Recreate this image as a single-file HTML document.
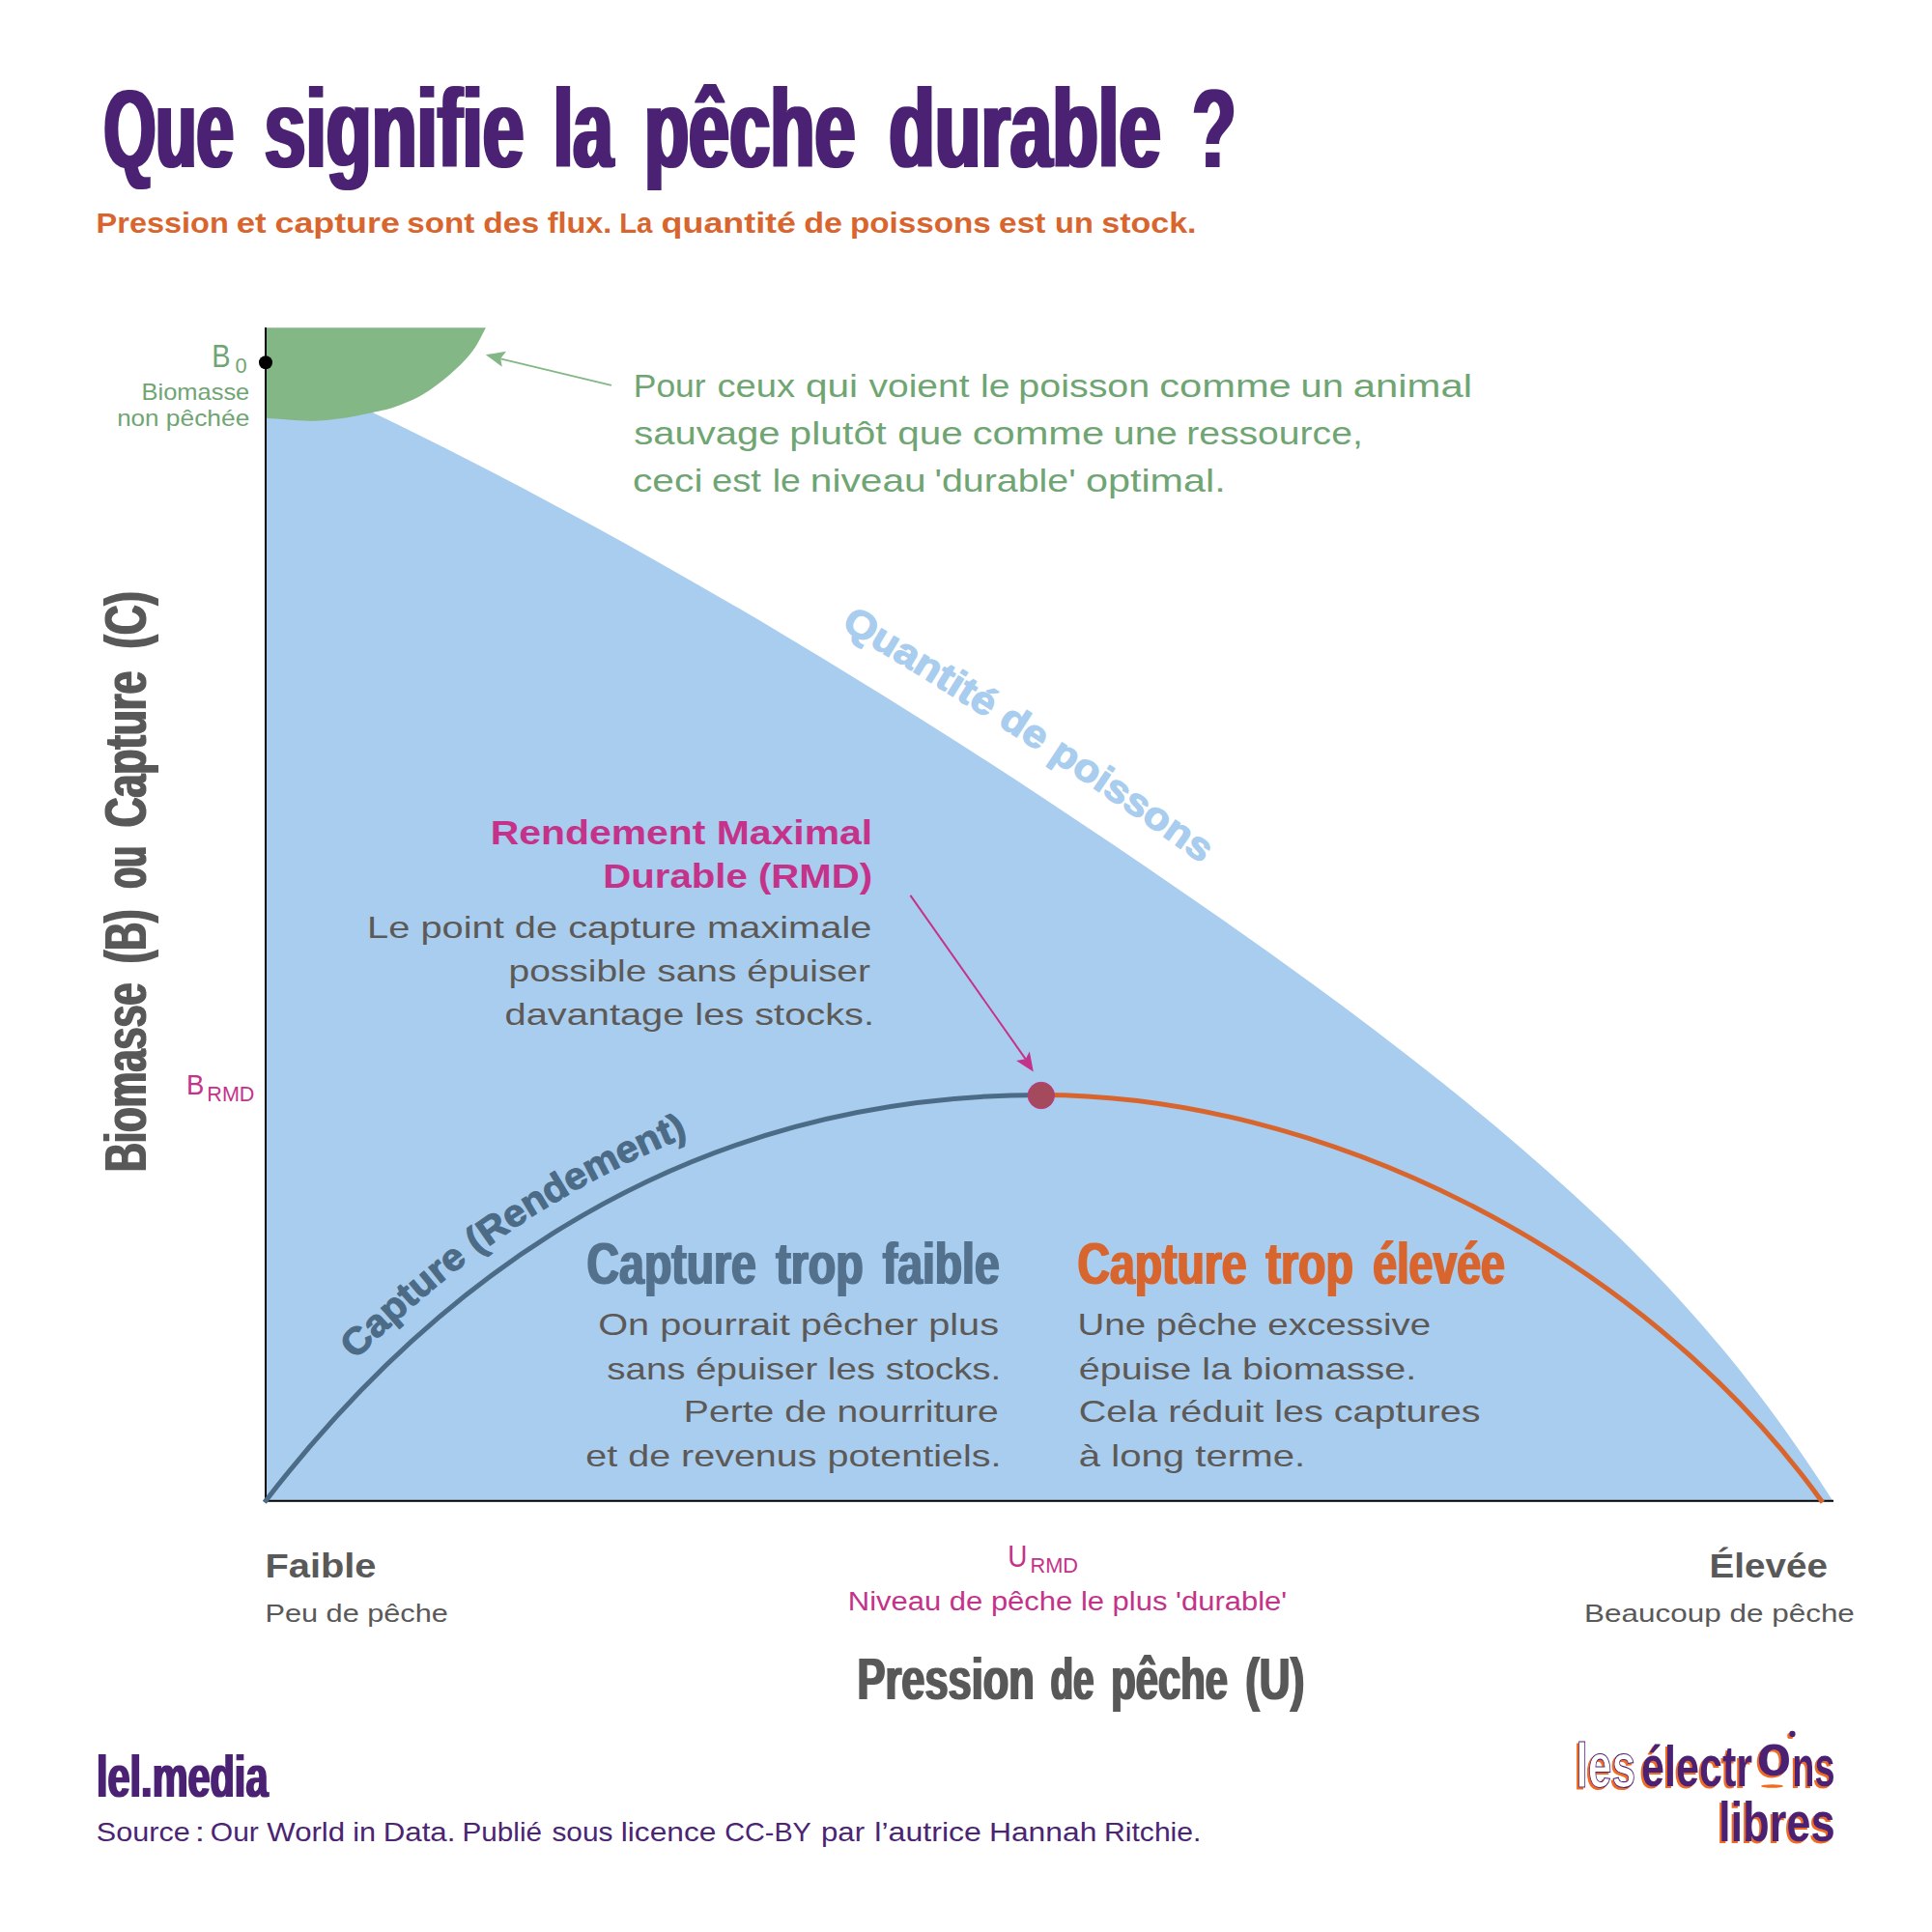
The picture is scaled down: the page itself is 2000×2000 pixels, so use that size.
<!DOCTYPE html>
<html lang="fr"><head><meta charset="utf-8"><title>Que signifie la pêche durable ?</title>
<style>html,body{margin:0;padding:0;background:#fff}body{width:2000px;height:2000px;overflow:hidden}svg{display:block}text{font-family:"Liberation Sans", Arial, sans-serif}</style>
</head><body>
<svg width="2000" height="2000" viewBox="0 0 2000 2000">
<rect width="2000" height="2000" fill="#fff"/>
<defs>
<filter id="fat1" filterUnits="userSpaceOnUse" x="0" y="0" width="2000" height="2000"><feMorphology operator="dilate" radius="1 0"/></filter>
<filter id="fatv" filterUnits="userSpaceOnUse" x="0" y="0" width="2000" height="2000"><feMorphology operator="dilate" radius="0 1"/></filter>
<filter id="fat2" filterUnits="userSpaceOnUse" x="0" y="0" width="2000" height="2000"><feMorphology operator="dilate" radius="2 0"/></filter>
<filter id="sh" filterUnits="userSpaceOnUse" x="1600" y="1770" width="340" height="160"><feFlood flood-color="#f26a1b"/><feComposite in2="SourceAlpha" operator="in"/><feOffset dx="-2.2" dy="1.6"/><feMerge><feMergeNode/><feMergeNode in="SourceGraphic"/></feMerge></filter>
</defs>
<path d="M275.0,375.2 C320.1,395.5 365.1,416.7 410.2,438.8 C455.3,460.9 500.3,483.8 545.4,507.6 C590.4,531.4 635.5,556.0 680.6,581.4 C725.6,606.8 770.7,632.9 815.8,659.9 C860.8,686.8 905.9,714.5 951.0,742.9 C996.0,771.3 1041.1,800.4 1086.2,830.2 C1131.2,859.9 1176.3,890.4 1221.3,921.4 C1266.4,952.5 1311.5,984.1 1356.5,1016.9 C1401.6,1049.7 1446.7,1083.8 1491.7,1119.8 C1536.8,1155.8 1581.9,1193.7 1626.9,1234.7 C1672.0,1275.6 1717.0,1319.9 1762.1,1371.7 C1807.2,1423.5 1852.2,1482.8 1897.3,1553.7 L275,1553.7 Z" fill="#a9cdee"/>
<path d="M275,339.2 L502.9,339.2 C499.8,345.1 496.8,351.7 493.5,356.9 C490.2,362.1 487.3,365.9 483.4,370.4 C479.5,374.9 474.9,379.3 470.0,383.8 C465.1,388.3 459.9,392.8 453.8,397.3 C447.7,401.8 441.2,406.8 433.6,410.8 C426.0,414.8 416.0,418.8 408.0,421.5 C400.0,424.2 394.8,425.0 385.8,426.9 C376.8,428.8 365.1,431.5 354.2,433.0 C343.3,434.5 333.8,435.7 320.6,435.7 C307.4,435.7 290.2,433.7 275.0,432.8 Z" fill="#83b785"/>
<path d="M275,339 V1553.7 H1898" fill="none" stroke="#000" stroke-width="2"/>
<path d="M273.8,1555.3 L275,1553.7 C411.6,1376.4 662.1,1133.5 1078,1133.5" fill="none" stroke="#4b6b86" stroke-width="5"/>
<path d="M1078,1133.5 C1362.7,1133.5 1695,1290.4 1885.6,1553.7 L1886.8,1555.3" fill="none" stroke="#d9652e" stroke-width="5"/>
<circle cx="275" cy="375.2" r="7" fill="#000"/>
<circle cx="1077.85" cy="1134" r="13.7" fill="#a54a5c" stroke="#c43389" stroke-width="1"/>
<path d="M632.9,398.8 L518.2,371.3" fill="none" stroke="#83b785" stroke-width="1.8"/>
<path d="M502.8,367.3 L524,363.8 L518.2,371.3 L519.8,379.8 Z" fill="#83b785"/>
<path d="M942.4,926.8 L1061.7,1096.3" fill="none" stroke="#c43389" stroke-width="2"/>
<path d="M1069.8,1109.6 L1052,1098 L1061.7,1096.3 L1065.8,1088.4 Z" fill="#c43389"/>
<text y="241.3" font-size="30" fill="#d9652e" font-weight="bold"><tspan x="99.64" textLength="137.10" lengthAdjust="spacingAndGlyphs">Pression</tspan> <tspan x="244.74" textLength="30.95" lengthAdjust="spacingAndGlyphs">et</tspan> <tspan x="284.51" textLength="129.31" lengthAdjust="spacingAndGlyphs">capture</tspan> <tspan x="421.19" textLength="69.99" lengthAdjust="spacingAndGlyphs">sont</tspan> <tspan x="500.38" textLength="57.78" lengthAdjust="spacingAndGlyphs">des</tspan> <tspan x="566.70" textLength="66.64" lengthAdjust="spacingAndGlyphs">flux.</tspan> <tspan x="641.14" textLength="34.25" lengthAdjust="spacingAndGlyphs">La</tspan> <tspan x="684.60" textLength="139.41" lengthAdjust="spacingAndGlyphs">quantité</tspan> <tspan x="832.16" textLength="39.82" lengthAdjust="spacingAndGlyphs">de</tspan> <tspan x="879.99" textLength="145.66" lengthAdjust="spacingAndGlyphs">poissons</tspan> <tspan x="1034.09" textLength="48.30" lengthAdjust="spacingAndGlyphs">est</tspan> <tspan x="1092.11" textLength="39.83" lengthAdjust="spacingAndGlyphs">un</tspan> <tspan x="1140.27" textLength="98.25" lengthAdjust="spacingAndGlyphs">stock.</tspan></text>
<text x="219.31" y="379.9" font-size="32.3" fill="#6fa573" textLength="19.27" lengthAdjust="spacingAndGlyphs">B</text>
<text x="243.40" y="385.5" font-size="22" fill="#6fa573" textLength="12.13" lengthAdjust="spacingAndGlyphs">0</text>
<text x="146.50" y="414" font-size="23.2" fill="#6fa573" textLength="111.78" lengthAdjust="spacingAndGlyphs">Biomasse</text>
<text y="441.4" font-size="23.2" fill="#6fa573"><tspan x="121.18" textLength="43.32" lengthAdjust="spacingAndGlyphs">non</tspan> <tspan x="171.86" textLength="86.45" lengthAdjust="spacingAndGlyphs">pêchée</tspan></text>
<text y="410.5" font-size="33.5" fill="#6fa573"><tspan x="655.78" textLength="74.88" lengthAdjust="spacingAndGlyphs">Pour</tspan> <tspan x="742.46" textLength="80.55" lengthAdjust="spacingAndGlyphs">ceux</tspan> <tspan x="833.99" textLength="54.16" lengthAdjust="spacingAndGlyphs">qui</tspan> <tspan x="899.50" textLength="103.99" lengthAdjust="spacingAndGlyphs">voient</tspan> <tspan x="1015.06" textLength="30.48" lengthAdjust="spacingAndGlyphs">le</tspan> <tspan x="1054.35" textLength="135.87" lengthAdjust="spacingAndGlyphs">poisson</tspan> <tspan x="1200.16" textLength="136.63" lengthAdjust="spacingAndGlyphs">comme</tspan> <tspan x="1346.62" textLength="44.32" lengthAdjust="spacingAndGlyphs">un</tspan> <tspan x="1400.65" textLength="123.35" lengthAdjust="spacingAndGlyphs">animal</tspan></text>
<text y="459.5" font-size="33.5" fill="#6fa573"><tspan x="656.20" textLength="151.25" lengthAdjust="spacingAndGlyphs">sauvage</tspan> <tspan x="817.35" textLength="100.40" lengthAdjust="spacingAndGlyphs">plutôt</tspan> <tspan x="929.29" textLength="67.47" lengthAdjust="spacingAndGlyphs">que</tspan> <tspan x="1006.66" textLength="136.53" lengthAdjust="spacingAndGlyphs">comme</tspan> <tspan x="1152.63" textLength="66.22" lengthAdjust="spacingAndGlyphs">une</tspan> <tspan x="1228.16" textLength="182.63" lengthAdjust="spacingAndGlyphs">ressource,</tspan></text>
<text y="508.8" font-size="33.5" fill="#6fa573"><tspan x="654.98" textLength="72.47" lengthAdjust="spacingAndGlyphs">ceci</tspan> <tspan x="736.96" textLength="51.05" lengthAdjust="spacingAndGlyphs">est</tspan> <tspan x="799.66" textLength="29.14" lengthAdjust="spacingAndGlyphs">le</tspan> <tspan x="838.77" textLength="119.91" lengthAdjust="spacingAndGlyphs">niveau</tspan> <tspan x="967.43" textLength="146.31" lengthAdjust="spacingAndGlyphs">'durable'</tspan> <tspan x="1123.97" textLength="144.68" lengthAdjust="spacingAndGlyphs">optimal.</tspan></text>
<text x="507.71" y="873.6" font-size="34.3" fill="#c43389" font-weight="bold" textLength="395.51" lengthAdjust="spacingAndGlyphs">Rendement Maximal</text>
<text x="624.36" y="918.6" font-size="34.3" fill="#c43389" font-weight="bold" textLength="278.70" lengthAdjust="spacingAndGlyphs">Durable (RMD)</text>
<text x="380.11" y="970.7" font-size="32" fill="#5c5957" textLength="522.28" lengthAdjust="spacingAndGlyphs">Le point de capture maximale</text>
<text x="526.57" y="1015.7" font-size="32" fill="#5c5957" textLength="374.42" lengthAdjust="spacingAndGlyphs">possible sans épuiser</text>
<text x="522.56" y="1060.6" font-size="32" fill="#5c5957" textLength="382.44" lengthAdjust="spacingAndGlyphs">davantage les stocks.</text>
<text x="192.96" y="1133.4" font-size="30" fill="#c43389" textLength="18.36" lengthAdjust="spacingAndGlyphs">B</text>
<text x="214.32" y="1139.6" font-size="22" fill="#c43389" textLength="49.15" lengthAdjust="spacingAndGlyphs">RMD</text>
<text x="619.26" y="1382.2" font-size="32" fill="#5c5957" textLength="414.78" lengthAdjust="spacingAndGlyphs">On pourrait pêcher plus</text>
<text x="628.30" y="1427.7" font-size="32" fill="#5c5957" textLength="407.97" lengthAdjust="spacingAndGlyphs">sans épuiser les stocks.</text>
<text x="707.86" y="1472.2" font-size="32" fill="#5c5957" textLength="325.92" lengthAdjust="spacingAndGlyphs">Perte de nourriture</text>
<text x="606.37" y="1517.5" font-size="32" fill="#5c5957" textLength="430.00" lengthAdjust="spacingAndGlyphs">et de revenus potentiels.</text>
<text x="1115.60" y="1382.2" font-size="32" fill="#5c5957" textLength="365.66" lengthAdjust="spacingAndGlyphs">Une pêche excessive</text>
<text x="1116.76" y="1427.7" font-size="32" fill="#5c5957" textLength="349.51" lengthAdjust="spacingAndGlyphs">épuise la biomasse.</text>
<text x="1116.76" y="1472.2" font-size="32" fill="#5c5957" textLength="415.77" lengthAdjust="spacingAndGlyphs">Cela réduit les captures</text>
<text x="1116.75" y="1517.5" font-size="32" fill="#5c5957" textLength="234.38" lengthAdjust="spacingAndGlyphs">à long terme.</text>
<text x="274.56" y="1632.7" font-size="35.6" fill="#595959" font-weight="bold" textLength="114.92" lengthAdjust="spacingAndGlyphs">Faible</text>
<text x="274.46" y="1679.3" font-size="26.2" fill="#595959" textLength="189.40" lengthAdjust="spacingAndGlyphs">Peu de pêche</text>
<text x="1043.23" y="1621.9" font-size="31.6" fill="#c43389" textLength="20.17" lengthAdjust="spacingAndGlyphs">U</text>
<text x="1066.41" y="1628.1" font-size="21.9" fill="#c43389" textLength="49.60" lengthAdjust="spacingAndGlyphs">RMD</text>
<text x="877.81" y="1667.2" font-size="27" fill="#c43389" textLength="454.42" lengthAdjust="spacingAndGlyphs">Niveau de pêche le plus 'durable'</text>
<text x="1769.63" y="1632.7" font-size="35.6" fill="#595959" font-weight="bold" textLength="122.22" lengthAdjust="spacingAndGlyphs">Élevée</text>
<text x="1640.10" y="1678.8" font-size="26.2" fill="#595959" textLength="279.78" lengthAdjust="spacingAndGlyphs">Beaucoup de pêche</text>
<text y="1905.5" font-size="27.8" fill="#4b2473"><tspan x="99.80" textLength="96.91" lengthAdjust="spacingAndGlyphs">Source</tspan> <tspan x="201.65" textLength="10.23" lengthAdjust="spacingAndGlyphs">:</tspan> <tspan x="217.82" textLength="50.06" lengthAdjust="spacingAndGlyphs">Our</tspan> <tspan x="276.30" textLength="80.84" lengthAdjust="spacingAndGlyphs">World</tspan> <tspan x="365.30" textLength="23.81" lengthAdjust="spacingAndGlyphs">in</tspan> <tspan x="396.75" textLength="74.68" lengthAdjust="spacingAndGlyphs">Data.</tspan> <tspan x="478.57" textLength="82.42" lengthAdjust="spacingAndGlyphs">Publié</tspan> <tspan x="571.40" textLength="63.06" lengthAdjust="spacingAndGlyphs">sous</tspan> <tspan x="642.76" textLength="98.66" lengthAdjust="spacingAndGlyphs">licence</tspan> <tspan x="750.27" textLength="88.98" lengthAdjust="spacingAndGlyphs">CC-BY</tspan> <tspan x="849.98" textLength="45.11" lengthAdjust="spacingAndGlyphs">par</tspan> <tspan x="905.35" textLength="110.58" lengthAdjust="spacingAndGlyphs">l’autrice</tspan> <tspan x="1023.91" textLength="111.56" lengthAdjust="spacingAndGlyphs">Hannah</tspan> <tspan x="1143.03" textLength="100.43" lengthAdjust="spacingAndGlyphs">Ritchie.</tspan></text>
<g filter="url(#fat1)">
<text y="1328.6" font-size="61.9" fill="#52718d" font-weight="bold"><tspan x="607.60" textLength="175.26" lengthAdjust="spacingAndGlyphs">Capture</tspan> <tspan x="803.20" textLength="90.46" lengthAdjust="spacingAndGlyphs">trop</tspan> <tspan x="913.75" textLength="120.91" lengthAdjust="spacingAndGlyphs">faible</tspan></text>
<text y="1328.6" font-size="61.9" fill="#d9652e" font-weight="bold"><tspan x="1115.40" textLength="175.26" lengthAdjust="spacingAndGlyphs">Capture</tspan> <tspan x="1310.50" textLength="90.46" lengthAdjust="spacingAndGlyphs">trop</tspan> <tspan x="1421.36" textLength="136.57" lengthAdjust="spacingAndGlyphs">élevée</tspan></text>
<text y="1758.9" font-size="60.7" fill="#595959" font-weight="bold"><tspan x="887.44" textLength="183.36" lengthAdjust="spacingAndGlyphs">Pression</tspan> <tspan x="1087.53" textLength="45.09" lengthAdjust="spacingAndGlyphs">de</tspan> <tspan x="1150.35" textLength="120.66" lengthAdjust="spacingAndGlyphs">pêche</tspan> <tspan x="1289.23" textLength="61.08" lengthAdjust="spacingAndGlyphs">(U)</tspan></text>
<text x="100.03" y="1859.9" font-size="62" fill="#4b2473" font-weight="bold" textLength="177.43" lengthAdjust="spacingAndGlyphs">lel.media</text>
</g>
<g filter="url(#fat2)">
<text y="173.3" font-size="115" fill="#4b2473" font-weight="bold"><tspan x="107.39" textLength="134.59" lengthAdjust="spacingAndGlyphs">Que</tspan> <tspan x="273.83" textLength="268.64" lengthAdjust="spacingAndGlyphs">signifie</tspan> <tspan x="572.63" textLength="62.00" lengthAdjust="spacingAndGlyphs">la</tspan> <tspan x="666.90" textLength="218.55" lengthAdjust="spacingAndGlyphs">pêche</tspan> <tspan x="920.19" textLength="281.62" lengthAdjust="spacingAndGlyphs">durable</tspan> <tspan x="1234.28" textLength="45.24" lengthAdjust="spacingAndGlyphs">?</tspan></text>
</g>
<g filter="url(#fatv)">
<text transform="translate(151.1,0) rotate(-90)" y="0" font-size="61.4" fill="#595959" font-weight="bold"><tspan x="-1213.10" textLength="195.57" lengthAdjust="spacingAndGlyphs">Biomasse</tspan> <tspan x="-997.05" textLength="55.33" lengthAdjust="spacingAndGlyphs">(B)</tspan> <tspan x="-919.66" textLength="43.60" lengthAdjust="spacingAndGlyphs">ou</tspan> <tspan x="-856.29" textLength="161.49" lengthAdjust="spacingAndGlyphs">Capture</tspan> <tspan x="-671.17" textLength="58.86" lengthAdjust="spacingAndGlyphs">(C)</tspan></text>
</g>
<path id="qp" d="M870,650 Q1070,768 1262,907" fill="none"/>
<text font-size="40" font-weight="bold" fill="#a9cdee" stroke="#a9cdee" stroke-width="1.3" stroke-linejoin="round"><textPath href="#qp" textLength="447" lengthAdjust="spacingAndGlyphs">Quantité de poissons</textPath></text>
<path id="cp" d="M368.0,1407.9 L388.5,1387.8 L410.0,1367.9 L432.4,1348.1 L455.8,1328.5 L480.1,1309.3 L505.4,1290.5 L531.7,1272.2 L559.0,1254.4 L587.4,1237.3 L616.8,1220.8 L647.2,1205.2 L678.7,1190.5 L711.2,1176.6 L744.9,1163.8 L779.9,1152.1" fill="none"/>
<text font-size="39" font-weight="bold" fill="#4b6b86" stroke="#4b6b86" stroke-width="1.1" stroke-linejoin="round"><textPath href="#cp" textLength="418" lengthAdjust="spacingAndGlyphs">Capture (Rendement)</textPath></text>
<ellipse cx="1834.5" cy="1849" rx="11.5" ry="1.8" fill="#f26a1b"/>
<g filter="url(#sh)" font-weight="bold">
<text x="1631.43" y="1849.7" font-size="64" fill="#fff" stroke="#4b2473" stroke-width="1.1" textLength="61.67" lengthAdjust="spacingAndGlyphs">les</text>
<text y="1848.8" font-size="60" fill="#4b2473"><tspan x="1699.06" textLength="114.99" lengthAdjust="spacingAndGlyphs">électr</tspan><tspan x="1818.58" dy="-10.8" font-size="61" textLength="35.79" lengthAdjust="spacingAndGlyphs">o</tspan><tspan x="1855.31" dy="10.8" textLength="44.19" lengthAdjust="spacingAndGlyphs">ns</tspan></text>
<text x="1778.88" y="1905.9" font-size="58" fill="#4b2473" textLength="120.89" lengthAdjust="spacingAndGlyphs">libres</text>
<circle cx="1855.4" cy="1794.9" r="3.2" fill="#4b2473"/>
</g>
</svg></body></html>
